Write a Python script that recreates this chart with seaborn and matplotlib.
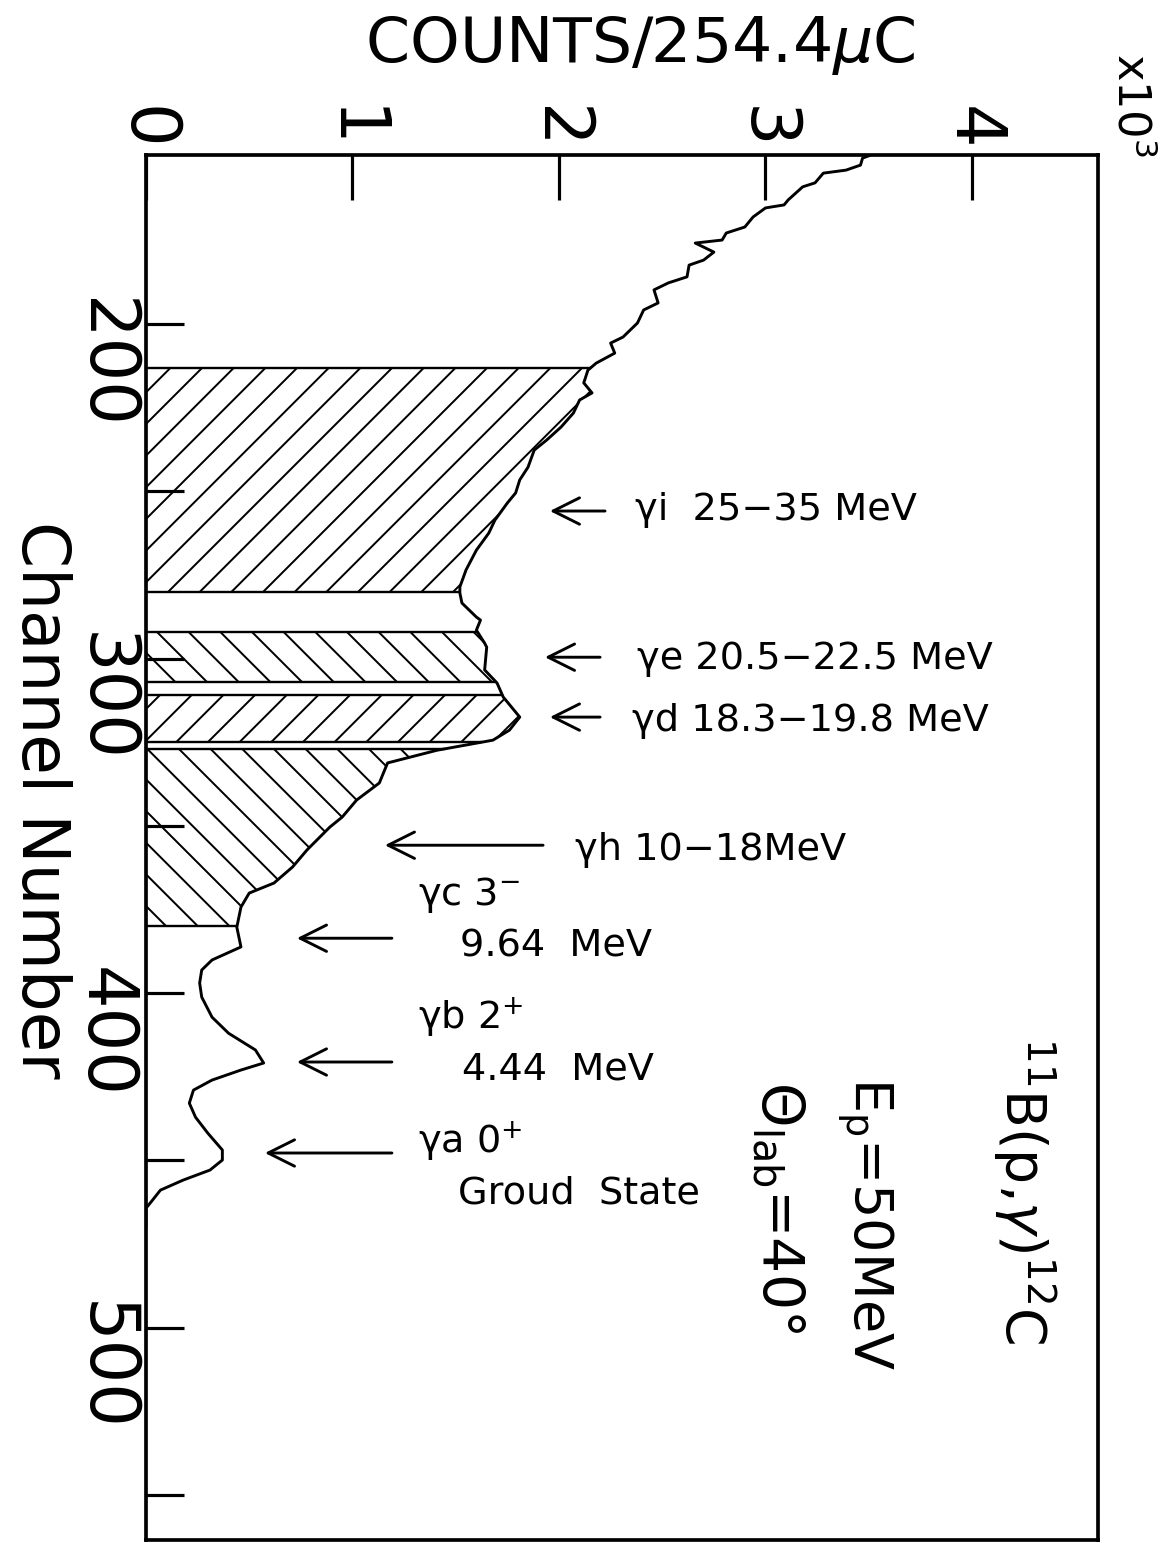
import numpy as np
import pandas as pd
import matplotlib
matplotlib.use("Agg")
import matplotlib.pyplot as plt
import seaborn as sns

# ---------------- data ----------------
channel = [149.5, 150.4, 152.5, 154.0, 154.9, 157.8, 159.0, 162.9, 164.4, 165.3,
           168.0, 171.0, 172.8, 174.9, 175.8, 178.5, 180.9, 182.4, 185.9, 187.7,
           189.8, 193.7, 195.8, 199.7, 203.9, 205.7, 208.7, 211.7, 213.8, 217.6,
           220.6, 222.7, 226.6, 230.8, 234.7, 237.7, 242.8, 246.6, 250.5, 253.5,
           258.6, 262.5, 267.6, 273.5, 278.6, 280.4, 283.4, 287.6, 288.5, 291.5,
           295.4, 296.6, 303.4, 307.3, 311.5, 317.5, 321.4, 324.4, 327.4, 331.2,
           337.2, 342.3, 347.4, 350.4, 357.2, 362.3, 367.1, 370.1, 374.3, 380.3,
           386.2, 390.1, 393.1, 397.0, 401.2, 407.2, 412.0, 417.0, 420.9, 423.0,
           426.0, 429.0, 432.9, 437.1, 441.9, 446.9, 449.9, 452.9, 455.9, 458.9,
           462.8, 464.3, 470.0]
counts = [3.51, 3.47, 3.46, 3.39, 3.28, 3.24, 3.18, 3.11, 3.09, 3.00,
          2.94, 2.90, 2.81, 2.79, 2.66, 2.75, 2.70, 2.63, 2.62, 2.53,
          2.46, 2.48, 2.41, 2.38, 2.31, 2.25, 2.27, 2.18, 2.14, 2.12,
          2.16, 2.10, 2.07, 2.01, 1.94, 1.88, 1.85, 1.81, 1.79, 1.75,
          1.69, 1.66, 1.60, 1.55, 1.52, 1.52, 1.53, 1.60, 1.62, 1.60,
          1.64, 1.65, 1.64, 1.70, 1.73, 1.81, 1.76, 1.68, 1.41, 1.17,
          1.13, 1.02, 0.95, 0.89, 0.78, 0.71, 0.62, 0.50, 0.46, 0.44,
          0.46, 0.32, 0.27, 0.26, 0.27, 0.32, 0.40, 0.53, 0.57, 0.46,
          0.32, 0.23, 0.21, 0.24, 0.30, 0.37, 0.37, 0.31, 0.18, 0.07,
          0.02, 0.00, 0.00]   # in units of 10^3 counts

# shaded gates (channel ranges)
gate_names = ["i", "e", "d", "h"]
gate_lo = [213, 292, 311, 327]
gate_hi = [280, 307, 325, 380]
gate_hatch = ["//", "\\\\", "//", "\\\\"]

count_ticks = [0, 1, 2, 3, 4]
count_ticklabels = ["0", "1", "2", "3", "4"]
channel_major = [200, 300, 400, 500]
channel_minor = [250, 350, 450, 550]

# arrow annotations: (head_x, tail_x, y)
arrow_head = [1.956, 1.932, 1.956, 1.157, 0.731, 0.731, 0.576]
arrow_tail = [2.223, 2.199, 2.199, 1.923, 1.191, 1.191, 1.191]
arrow_y = [255.9, 299.6, 317.5, 355.8, 383.6, 420.6, 447.8]

label_text = ["γi  25−35 MeV", "γe 20.5−22.5 MeV", "γd 18.3−19.8 MeV",
              "γh 10−18MeV", r"γc 3$^{-}$", "9.64  MeV", r"γb 2$^{+}$",
              "4.44  MeV", r"γa 0$^{+}$", "Groud  State"]
label_x = [2.368, 2.378, 2.353, 2.077, 1.317, 1.521, 1.317, 1.530, 1.317, 1.511]
label_y = [255.6, 300.1, 318.7, 357.2, 370.7, 386.2, 407.2, 422.7, 444.2, 459.8]

assert len(channel) == len(counts)

# ---------------- figure ----------------
sns.set_theme(style="white")
plt.rcParams["font.family"] = ["DejaVu Sans"]
plt.rcParams["mathtext.fontset"] = "dejavusans"
plt.rcParams["hatch.linewidth"] = 0.75
plt.rcParams["text.color"] = "black"
plt.rcParams["axes.labelcolor"] = "black"

DPI = 190
fig = plt.figure(figsize=(1163 / DPI, 1543 / DPI), dpi=DPI)
fig.patch.set_facecolor("white")
ax = fig.add_axes([0.1255, 0.0019, 0.8186, 0.8976])
ax.set_facecolor("white")

df = pd.DataFrame({"channel": channel, "counts": counts})
sns.lineplot(data=df, x="counts", y="channel", orient="y", estimator=None,
             sort=True, color="black", lw=1.1, ax=ax)

ch = np.asarray(channel)
ct = np.asarray(counts)
for lo, hi, hp in zip(gate_lo, gate_hi, gate_hatch):
    inner = (ch > lo) & (ch < hi)
    ch_r = np.concatenate([[lo], ch[inner], [hi]])
    ct_r = np.concatenate([[np.interp(lo, ch, ct)], ct[inner], [np.interp(hi, ch, ct)]])
    ax.fill_betweenx(ch_r, 0, ct_r, facecolor="none", edgecolor="black",
                     hatch=hp, linewidth=0)
    ax.hlines([lo, hi], 0, [ct_r[0], ct_r[-1]], colors="black", lw=0.9)

for hx, tx, yy in zip(arrow_head, arrow_tail, arrow_y):
    ax.annotate("", xy=(hx, yy), xytext=(tx, yy),
                arrowprops=dict(arrowstyle="->", lw=1.1, color="black",
                                mutation_scale=25, shrinkA=0, shrinkB=0))

for t, x, y in zip(label_text, label_x, label_y):
    ax.text(x, y, t, ha="left", va="center", fontsize=14.5, color="black")

# rotated reaction labels
ax.text(4.25, 458.9, r"$^{11}$B(p,$\gamma$)$^{12}$C", rotation=-90,
        ha="center", va="center", fontsize=21, color="black")
ax.text(3.48, 469.0, r"E$_{\rm p}$=50MeV", rotation=-90,
        ha="center", va="center", fontsize=20.5, color="black")
ax.text(3.06, 464.0, r"$\Theta_{\rm lab}$=40°", rotation=-90,
        ha="center", va="center", fontsize=21.5, color="black")

# axes
ax.set_xlim(0, 4.61)
ax.set_ylim(563.5, 149.5)

ax.xaxis.tick_top()
ax.set_xticks(count_ticks)
ax.set_xticklabels(count_ticklabels, rotation=-90)
ax.tick_params(axis="x", which="major", direction="in", length=17, width=1.2,
               top=True, bottom=False, labeltop=True, labelbottom=False,
               pad=2, labelsize=26, color="black", labelcolor="black")

ax.set_yticks(channel_major)
ax.set_yticks(channel_minor, minor=True)
ax.set_yticklabels([str(v) for v in channel_major], rotation=-90)
ax.tick_params(axis="y", which="both", direction="in", length=14.5, width=1.2,
               left=True, right=False, labelleft=True, pad=3, labelsize=26,
               color="black", labelcolor="black")

for s in ax.spines.values():
    s.set_visible(True)
    s.set_color("black")
    s.set_linewidth(1.4)

ax.set_xlabel("COUNTS/254.4$\\mu$C", fontsize=24, color="black")
ax.xaxis.set_label_position("top")
ax.xaxis.set_label_coords(0.519, 1.0794)
ax.xaxis.label.set_va("center")

ax.set_ylabel("Channel Number", fontsize=25, rotation=-90, color="black")
ax.yaxis.set_label_coords(-0.111, 0.5343)
ax.yaxis.label.set_va("center")
ax.yaxis.label.set_ha("center")

ax.text(1.034, 1.036, r"x10$^{3}$", rotation=-90, transform=ax.transAxes,
        ha="center", va="center", fontsize=17, color="black")

fig.savefig("out.png", dpi=DPI, facecolor="white")
